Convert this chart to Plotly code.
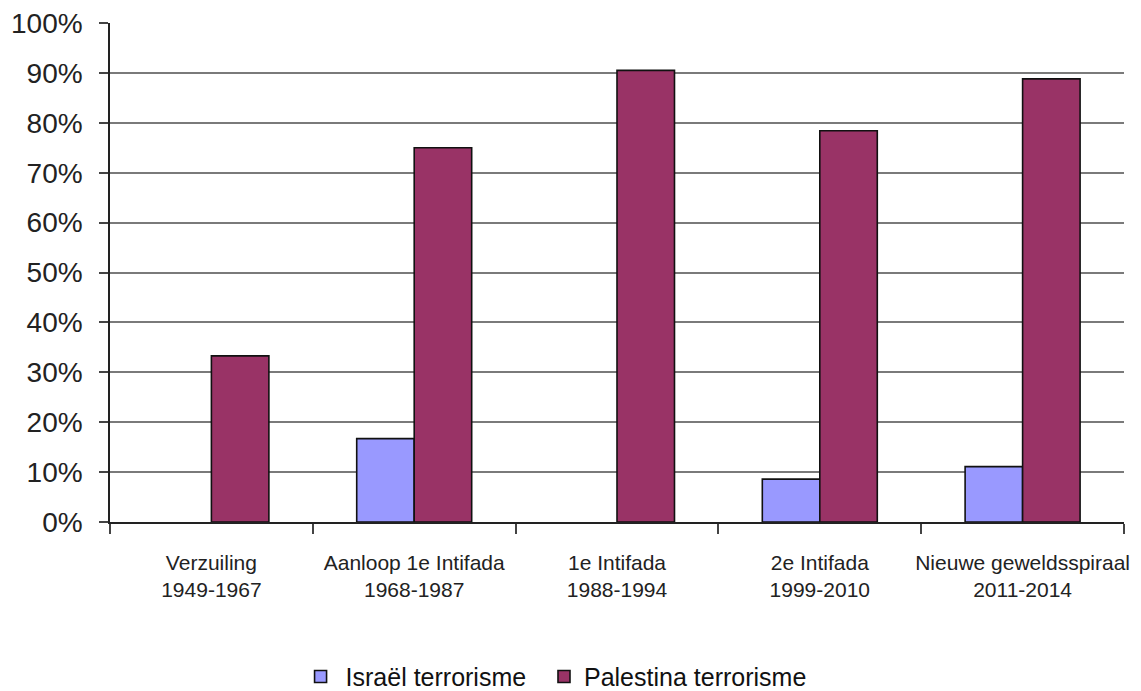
import plotly.graph_objects as go

categories = [
    "Verzuiling<br>1949-1967",
    "Aanloop 1e Intifada<br>1968-1987",
    "1e Intifada<br>1988-1994",
    "2e Intifada<br>1999-2010",
    "Nieuwe geweldsspiraal<br>2011-2014",
]
israel = [0, 16.7, 0, 8.6, 11.1]
palestina = [33.3, 75.0, 90.5, 78.4, 88.8]
y_ticks = [0, 10, 20, 30, 40, 50, 60, 70, 80, 90, 100]
y_tick_labels = [f"{v}%" for v in y_ticks]

FONT = "Liberation Sans, Arial, sans-serif"


def drawn(values):
    # a value of 0 is shown as no bar at all (as in the original chart)
    return [None if v == 0 else v for v in values]


fig = go.Figure()
fig.add_trace(go.Bar(
    x=categories, y=drawn(israel), name="Israël terrorisme", legend="legend",
    marker=dict(color="#9999FF", line=dict(color="#111111", width=1.6)),
))
fig.add_trace(go.Bar(
    x=categories, y=drawn(palestina), name="Palestina terrorisme", legend="legend2",
    marker=dict(color="#993366", line=dict(color="#111111", width=1.6)),
))

legend_font = dict(size=25, family=FONT, color="#111111")

fig.update_layout(
    width=1141, height=691,
    margin=dict(l=110, r=17, t=23, b=169, autoexpand=False),
    paper_bgcolor="white", plot_bgcolor="white",
    barmode="group", bargap=0.433, bargroupgap=0,
    font=dict(family=FONT, color="#222222"),
    showlegend=True,
    legend=dict(
        orientation="h", x=0.183, xanchor="left", y=-0.31, yanchor="middle",
        font=legend_font, itemwidth=40,
    ),
    legend2=dict(
        orientation="h", x=0.428, xanchor="left", y=-0.31, yanchor="middle",
        font=legend_font, itemwidth=30,
    ),
    xaxis=dict(
        showline=True, linecolor="#222222", linewidth=1.5,
        ticks="outside", ticklen=10, tickcolor="#444444", tickwidth=1.5,
        tickson="boundaries", tickangle=0, automargin=False,
        tickfont=dict(size=21, family=FONT, color="#222222"),
        ticklabelstandoff=21,
    ),
    yaxis=dict(
        range=[0, 100], tickmode="array", tickvals=y_ticks, ticktext=y_tick_labels,
        showline=True, linecolor="#222222", linewidth=1.5,
        ticks="outside", ticklen=9, tickcolor="#444444", tickwidth=1.5,
        showgrid=True, gridcolor="#7a7a7a", gridwidth=1.5,
        zeroline=False, automargin=False, ticklabeloverflow="allow",
        tickfont=dict(size=28, family=FONT, color="#222222"),
        ticklabelstandoff=11,
    ),
    yaxis2=dict(
        overlaying="y", side="right", range=[0, 100], automargin=False,
        showline=True, linecolor="#8a8a8a", linewidth=1.5,
        showgrid=False, showticklabels=False, ticks="", zeroline=False,
    ),
)

fig.write_html(
    "out.html",
    config={"displayModeBar": False},
    post_script="document.body.style.margin='0';document.body.style.overflow='hidden';",
)
